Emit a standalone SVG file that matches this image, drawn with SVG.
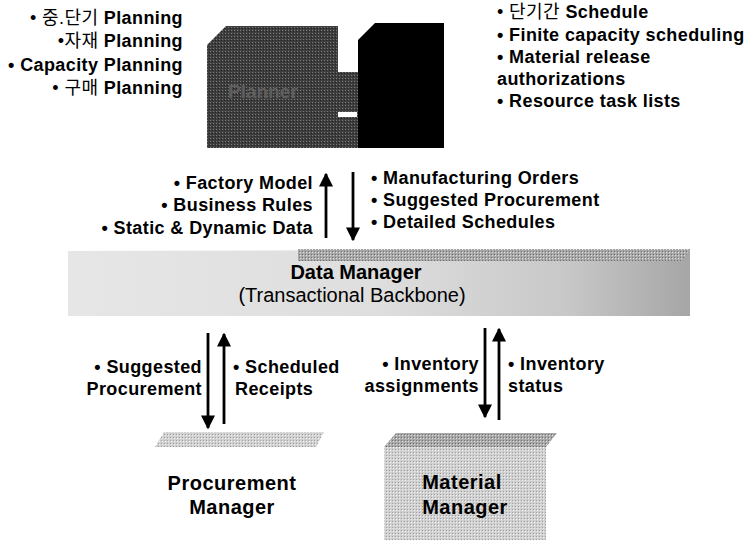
<svg xmlns="http://www.w3.org/2000/svg" width="750" height="542" viewBox="0 0 750 542">
<defs>
<style>
.t{font-family:"Liberation Sans","Noto Sans CJK KR",Arial,sans-serif;font-weight:bold;font-size:18px;letter-spacing:0.4px;fill:#000}
.k{font-weight:normal}
.big{font-family:"Liberation Sans",Arial,sans-serif;font-size:20px;fill:#000}
.mgr{font-family:"Liberation Sans",Arial,sans-serif;font-size:20px;font-weight:bold;letter-spacing:0.5px;fill:#000}
.line{stroke:#000;stroke-width:2.8;fill:none}
</style>
<marker id="ah" viewBox="0 0 10 10" refX="9" refY="5" markerWidth="5" markerHeight="5" orient="auto" markerUnits="strokeWidth">
<path d="M0,0 L10,5 L0,10 Z" fill="#000"/>
</marker>
<pattern id="dots" width="3" height="3" patternUnits="userSpaceOnUse">
<rect width="3" height="3" fill="#3e3e3e"/>
<rect x="0" y="0" width="1" height="1" fill="#7a7a7a"/>
<rect x="2" y="1" width="1" height="1" fill="#222"/>
</pattern>
<pattern id="ldots" width="3" height="3" patternUnits="userSpaceOnUse">
<rect width="3" height="3" fill="#d0d0d0"/>
<rect x="0" y="0" width="1" height="1" fill="#f2f2f2"/>
<rect x="2" y="2" width="1" height="1" fill="#a0a0a0"/>
</pattern>
<pattern id="mdots" width="3" height="3" patternUnits="userSpaceOnUse">
<rect width="3" height="3" fill="#a8a8a8"/>
<rect x="0" y="0" width="1" height="1" fill="#e0e0e0"/>
<rect x="2" y="2" width="1" height="1" fill="#707070"/>
</pattern>
<linearGradient id="dm" x1="0" y1="0" x2="1" y2="0">
<stop offset="0" stop-color="#e6e6e6"/>
<stop offset="0.5" stop-color="#dedede"/>
<stop offset="0.8" stop-color="#c8c8c8"/>
<stop offset="1" stop-color="#a6a6a6"/>
</linearGradient>
</defs>

<g id="planner">
<polygon points="207,45 226,26 338,26 338,72 358,72 358,148 207,148" fill="url(#dots)"/>
<rect x="338" y="112" width="19" height="5" fill="#fff"/>
<text x="228" y="98" font-family="Liberation Sans,Arial,sans-serif" font-weight="bold" font-size="19" fill="#5e5e5e">Planner</text>
</g>

<g id="scheduler">
<polygon points="358,40 375,23 444,23 444,148 358,148" fill="#000"/>
</g>

<g id="planner-notes">
<text class="t" text-anchor="end" x="183" y="24"><tspan class="k">• 중.단기</tspan> Planning</text>
<text class="t" text-anchor="end" x="183" y="47"><tspan class="k">•자재</tspan> Planning</text>
<text class="t" text-anchor="end" x="183" y="71">• Capacity Planning</text>
<text class="t" text-anchor="end" x="183" y="94"><tspan class="k">• 구매</tspan> Planning</text>
</g>

<g id="scheduler-notes">
<text class="t" x="497" y="18"><tspan class="k">• 단기간</tspan> Schedule</text>
<text class="t" x="497" y="41">• Finite capacity scheduling</text>
<text class="t" x="497" y="63">• Material release</text>
<text class="t" x="497" y="85">authorizations</text>
<text class="t" x="497" y="107">• Resource task lists</text>
</g>

<g id="data-manager">
<polygon points="68,251 690,249 690,316 68,316" fill="url(#dm)"/>
<polygon points="298,249 690,249 682,261 298,261" fill="url(#mdots)"/>
<text class="big" font-weight="bold" text-anchor="middle" x="356" y="279">Data Manager</text>
<text class="big" text-anchor="middle" x="352" y="302">(Transactional Backbone)</text>
</g>

<g id="procurement-manager">
<polygon points="155,447 164,432 324,432 316,447" fill="url(#ldots)"/>
<text class="mgr" text-anchor="middle" x="232" y="490">Procurement</text>
<text class="mgr" text-anchor="middle" x="232" y="514">Manager</text>
</g>

<g id="material-manager">
<polygon points="384,447 396,433 557,433 546,447" fill="url(#mdots)"/>
<rect x="384" y="447" width="162" height="93" fill="url(#ldots)"/>
<text class="mgr" text-anchor="middle" x="462" y="489">Material</text>
<text class="mgr" text-anchor="middle" x="465" y="514">Manager</text>
</g>

<g id="connectors">
<line class="line" x1="326" y1="238" x2="326" y2="174" marker-end="url(#ah)"/>
<line class="line" x1="353" y1="172" x2="353" y2="240" marker-end="url(#ah)"/>
<line class="line" x1="208" y1="333" x2="208" y2="428" marker-end="url(#ah)"/>
<line class="line" x1="224" y1="424" x2="224" y2="334" marker-end="url(#ah)"/>
<line class="line" x1="485" y1="328" x2="485" y2="417" marker-end="url(#ah)"/>
<line class="line" x1="499" y1="420" x2="499" y2="329" marker-end="url(#ah)"/>
</g>

<g id="connector-labels">
<text class="t" text-anchor="end" x="313" y="189">• Factory Model</text>
<text class="t" text-anchor="end" x="313" y="211">• Business Rules</text>
<text class="t" text-anchor="end" x="313" y="234">• Static &amp; Dynamic Data</text>
<text class="t" x="371" y="184">• Manufacturing Orders</text>
<text class="t" x="371" y="206">• Suggested Procurement</text>
<text class="t" x="371" y="228">• Detailed Schedules</text>
<text class="t" text-anchor="end" x="202" y="373">• Suggested</text>
<text class="t" text-anchor="end" x="202" y="395">Procurement</text>
<text class="t" x="233" y="373">• Scheduled</text>
<text class="t" x="235" y="395">Receipts</text>
<text class="t" text-anchor="end" x="479" y="370">• Inventory</text>
<text class="t" text-anchor="end" x="479" y="392">assignments</text>
<text class="t" x="508" y="370">• Inventory</text>
<text class="t" x="508" y="392">status</text>
</g>
</svg>
